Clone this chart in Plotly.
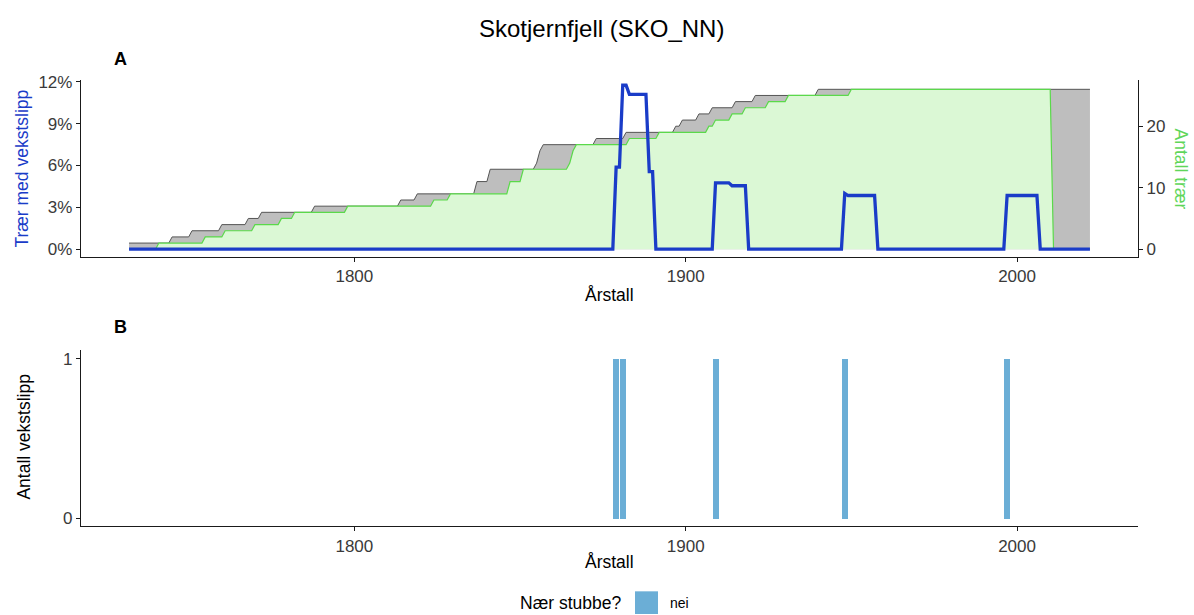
import plotly.graph_objects as go

# ---------------- data ----------------
# Panel A: number of trees (step series: year of change -> count from that year)
gray_years = [1732, 1745, 1751, 1760, 1768, 1772, 1788, 1814, 1819, 1837, 1841,
              1855, 1856, 1857, 1873, 1882, 1897, 1899, 1904, 1908, 1915, 1921,
              1940, 2022]
gray_counts = [1, 2, 3, 4, 5, 6, 7, 8, 9, 11, 13,
               14, 16, 17, 18, 19, 20, 21, 22, 23, 24, 25,
               26, 26]

green_years = [1732, 1741, 1755, 1761, 1770, 1778, 1782, 1798, 1824, 1829, 1847,
               1851, 1865, 1866, 1867, 1883, 1892, 1907, 1909, 1914, 1918, 1925,
               1931, 1950, 2011, 2022]
green_counts = [0, 1, 2, 3, 4, 5, 6, 7, 8, 9, 11,
                13, 14, 16, 17, 18, 19, 20, 21, 22, 23, 24,
                25, 26, 0, 0]

# Panel A: share of trees with growth release (%)
pct_years = [1732, 1878, 1879, 1880, 1881, 1882, 1883, 1888, 1889, 1890, 1891,
             1908, 1909, 1913, 1914, 1918, 1919,
             1947, 1948, 1949, 1957, 1958,
             1996, 1997, 2006, 2007, 2022]
pct_values = [0, 0, 5.88, 5.88, 11.76, 11.76, 11.11, 11.11, 5.56, 5.56, 0,
              0, 4.76, 4.76, 4.55, 4.55, 0,
              0, 4.0, 3.85, 3.85, 0,
              0, 3.85, 3.85, 0, 0]

# Panel B: number of growth releases per year
release_years = [1879, 1881, 1909, 1948, 1997]
release_counts = [1, 1, 1, 1, 1]

x_ticks = [1800, 1900, 2000]
pct_ticks = [0, 3, 6, 9, 12]
pct_labels = ["0%", "3%", "6%", "9%", "12%"]
tree_ticks = [0, 10, 20]
count_ticks = [0, 1]

# ---------------- helpers ----------------
W, H = 1194, 615


def px(x):
    return x / W


def py(y):
    return 1 - y / H


def step_vertices(years, counts):
    xs, ys = [years[0]], [counts[0]]
    for i in range(1, len(years)):
        if counts[i] != counts[i - 1]:
            xs += [years[i] - 1, years[i]]
            ys += [counts[i - 1], counts[i]]
        else:
            xs.append(years[i])
            ys.append(counts[i])
    return xs, ys


FONT = "Liberation Sans, Arial, Helvetica, sans-serif"
BLUE = "#1a3cc8"
GREEN_LINE = "#5ad94a"
GREEN_TXT = "#5fd65a"
GREEN_FILL = "#dbf8d5"
GRAY_FILL = "#bebebe"
GRAY_LINE = "#555555"
BAR = "#6baed6"
AXIS = "#1a1a1a"
TICKTXT = "#3a3a3a"

gx, gy = step_vertices(gray_years, gray_counts)
nx, ny = step_vertices(green_years, green_counts)

fig = go.Figure()

fig.add_trace(go.Scatter(x=gx, y=gy, mode="lines", fill="tozeroy",
                         fillcolor=GRAY_FILL, line=dict(color=GRAY_LINE, width=1),
                         xaxis="x", yaxis="y", showlegend=False, hoverinfo="skip"))
fig.add_trace(go.Scatter(x=nx, y=ny, mode="lines", fill="tozeroy",
                         fillcolor=GREEN_FILL, line=dict(color=GREEN_LINE, width=1.2),
                         xaxis="x", yaxis="y", showlegend=False, hoverinfo="skip"))
fig.add_trace(go.Scatter(x=pct_years, y=pct_values, mode="lines",
                         line=dict(color=BLUE, width=3.3),
                         xaxis="x", yaxis="y2", showlegend=False))
fig.add_trace(go.Bar(x=release_years, y=release_counts, width=1.8,
                     marker=dict(color=BAR, line=dict(width=0)),
                     xaxis="x2", yaxis="y3", name="nei", showlegend=False))

xdom = [px(81), px(1138)]
xrange_ = [1717.5, 2036.5]
a_dom = [py(253.3), py(74.3)]
b_dom = [py(527), py(347.7)]

common_axis = dict(showline=True, linecolor=AXIS, linewidth=1.3, ticks="outside",
                   ticklen=4, tickwidth=1.3, tickcolor=AXIS, showgrid=False,
                   zeroline=False, tickfont=dict(family=FONT, size=17, color=TICKTXT))

fig.update_layout(
    width=W, height=H, autosize=False,
    margin=dict(l=0, r=0, t=0, b=0),
    paper_bgcolor="white", plot_bgcolor="white",
    bargap=0,
    xaxis=dict(domain=xdom, range=xrange_, tickvals=x_ticks, anchor="y", **common_axis),
    yaxis=dict(domain=a_dom, range=[-1.20, 27.48], tickvals=tree_ticks, side="right",
               anchor="x", **common_axis),
    yaxis2=dict(overlaying="y", range=[-0.53, 12.12], tickmode="array",
                tickvals=pct_ticks, ticktext=pct_labels,
                side="left", anchor="x", **common_axis),
    xaxis2=dict(domain=xdom, range=xrange_, tickvals=x_ticks, anchor="y3", **common_axis),
    yaxis3=dict(domain=b_dom, range=[-0.049, 1.056], tickvals=count_ticks, anchor="x2",
                **common_axis),
)

ann = []


def add_text(text, x, y, size=17.5, color="black", angle=0, xanchor="center",
             yanchor="middle"):
    ann.append(dict(text=text, x=px(x), y=py(y), xref="paper", yref="paper",
                    showarrow=False, textangle=angle, xanchor=xanchor, yanchor=yanchor,
                    font=dict(family=FONT, size=size, color=color)))


add_text("Skotjernfjell (SKO_NN)", 601, 22, size=24)
add_text("<b>A</b>", 120, 53, size=18)
add_text("<b>B</b>", 120, 325, size=18)
add_text("Årstall", 609.5, 292)
add_text("Årstall", 609.5, 563)
add_text("Trær med vekstslipp", 22, 164, color=BLUE, angle=-90)
add_text("Antall trær", 1181, 164, color=GREEN_TXT, angle=90)
add_text("Antall vekstslipp", 24, 437, angle=-90)
add_text("Nær stubbe?", 623, 605, xanchor="right")
add_text("nei", 668, 605, size=14, xanchor="left")

fig.update_layout(annotations=ann)
fig.add_shape(type="rect", xref="paper", yref="paper",
              x0=px(635), x1=px(658), y0=py(616), y1=py(593),
              fillcolor=BAR, line=dict(width=0))

fig.write_html("out.html")
